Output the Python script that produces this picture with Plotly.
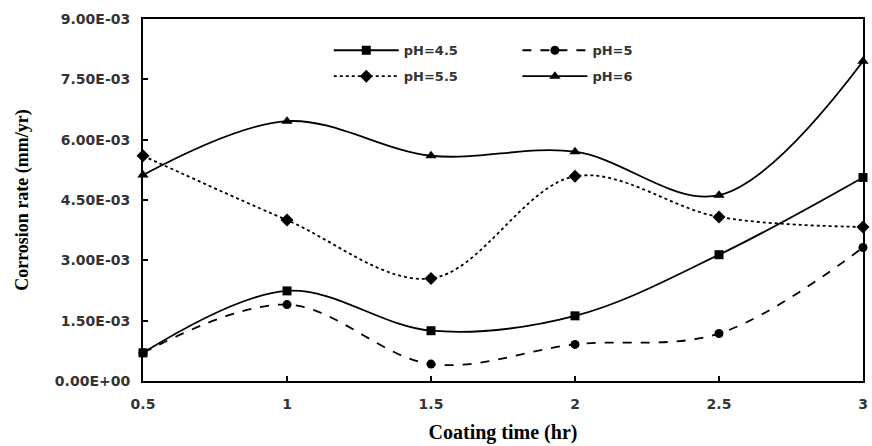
import plotly.graph_objects as go

coating_time = [0.5, 1, 1.5, 2, 2.5, 3]
ph45 = [0.70e-3, 2.24e-3, 1.25e-3, 1.62e-3, 3.14e-3, 5.06e-3]
ph5 = [0.70e-3, 1.90e-3, 0.42e-3, 0.91e-3, 1.18e-3, 3.32e-3]
ph55 = [5.60e-3, 4.00e-3, 2.55e-3, 5.09e-3, 4.08e-3, 3.83e-3]
ph6 = [5.12e-3, 6.46e-3, 5.60e-3, 5.70e-3, 4.62e-3, 7.95e-3]

y_tickvals = [0, 1.5e-3, 3.0e-3, 4.5e-3, 6.0e-3, 7.5e-3, 9.0e-3]
y_ticktext = ["0.00E+00", "1.50E-03", "3.00E-03", "4.50E-03", "6.00E-03", "7.50E-03", "9.00E-03"]
x_tickvals = [0.5, 1, 1.5, 2, 2.5, 3]
x_ticktext = ["0.5", "1", "1.5", "2", "2.5", "3"]

series = [
    ("pH=4.5", ph45, "solid", "square", 9, "legend", "g1"),
    ("pH=5.5", ph55, "dot", "diamond", 10, "legend", "g2"),
    ("pH=5", ph5, "dash", "circle", 9, "legend2", "g3"),
    ("pH=6", ph6, "solid", "triangle-up", 10, "legend2", "g4"),
]

fig = go.Figure()
for name, vals, dash, sym, size, leg, grp in series:
    fig.add_trace(go.Scatter(
        x=coating_time, y=vals, name=name, mode="lines+markers",
        line=dict(color="black", width=1.8, dash=dash, shape="spline", smoothing=1.0),
        marker=dict(symbol=sym, size=size, color="black"),
        legend=leg, legendgroup=grp, cliponaxis=False,
    ))

legend_common = dict(
    font=dict(family="DejaVu Sans", size=13, color="#333", weight="bold"),
    bgcolor="rgba(0,0,0,0)", tracegroupgap=6,
    xanchor="left", yanchor="top", orientation="v", itemwidth=65,
)

tick_font = dict(family="DejaVu Sans", size=14, color="#333", weight="bold")
title_font = dict(family="Liberation Serif, Times New Roman", color="black", weight="bold")

fig.update_layout(
    width=872, height=446,
    margin=dict(l=143, r=4, t=19, b=65),
    paper_bgcolor="white", plot_bgcolor="white",
    showlegend=True,
    legend=dict(x=0.258, y=0.955, **legend_common),
    legend2=dict(x=0.52, y=0.955, **legend_common),
    xaxis=dict(
        range=[0.5, 3], tickvals=x_tickvals, ticktext=x_ticktext,
        ticks="inside", ticklen=5, tickcolor="black", tickwidth=1.5,
        showline=True, linecolor="black", linewidth=2, mirror=True,
        showgrid=False, zeroline=False, ticklabelstandoff=9,
        tickfont=tick_font,
        title=dict(text="Coating time (hr)", standoff=14, font=dict(size=20, **title_font)),
    ),
    yaxis=dict(
        range=[0, 9e-3], tickvals=y_tickvals, ticktext=y_ticktext,
        ticks="inside", ticklen=5, tickcolor="black", tickwidth=1.5,
        showline=True, linecolor="black", linewidth=2, mirror=True,
        showgrid=False, zeroline=False, ticklabelstandoff=8,
        tickfont=tick_font,
        title=dict(text="Corrosion rate (mm/yr)", standoff=22, font=dict(size=18, **title_font)),
    ),
)

fig.write_html("out.html")
